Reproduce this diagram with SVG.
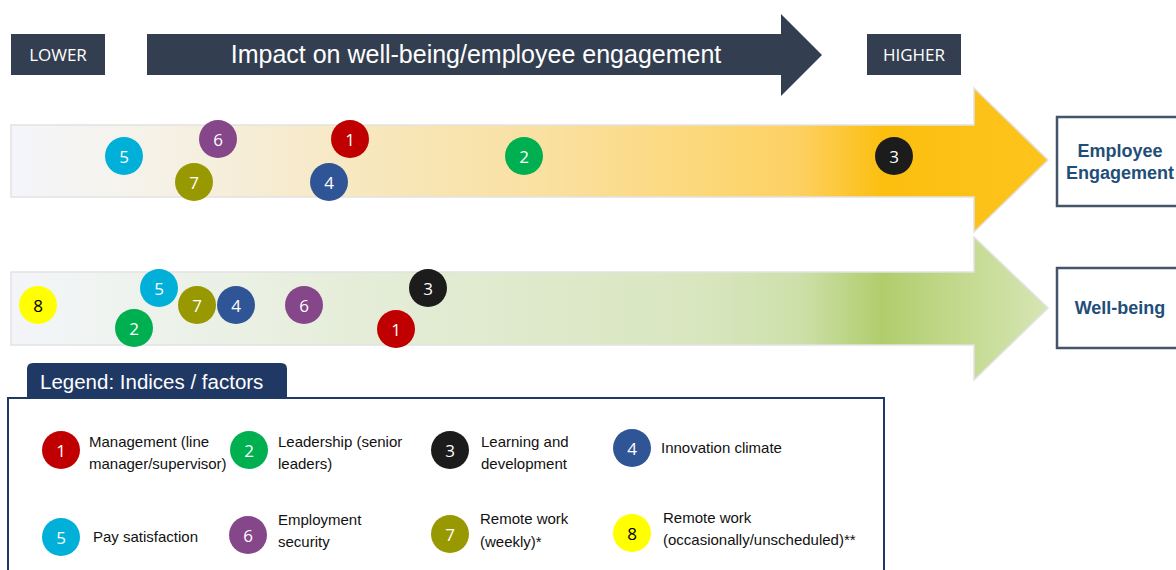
<svg xmlns="http://www.w3.org/2000/svg" width="1176" height="570" viewBox="0 0 1176 570">
<style>
.hdr{fill:#333f50}
.hdrt{fill:#fff;font-family:"Open Sans",sans-serif;font-size:17px;text-anchor:middle}
.title{fill:#fff;font-family:"Liberation Sans",Arial,sans-serif;font-size:25px;text-anchor:middle}
.band{stroke:#e2e2e2;stroke-width:1.5}
.tbox{fill:#fff;stroke:#44546a;stroke-width:2.5}
.tlab{fill:#1f4e79;font-family:"Liberation Sans",Arial,sans-serif;font-size:18px;font-weight:bold;text-anchor:middle}
.num{fill:#fff;font-family:"Open Sans",sans-serif;font-size:17px;text-anchor:middle;dominant-baseline:central}
.numk{fill:#000;font-family:"Open Sans",sans-serif;font-size:17px;text-anchor:middle;dominant-baseline:central}
.lg{fill:#111;font-family:"Liberation Sans",Arial,sans-serif;font-size:15px}
.c1{fill:#c00000}.c2{fill:#00b050}.c3{fill:#1c1c1c}.c4{fill:#2f5597}
.c5{fill:#00b0d8}.c6{fill:#86468a}.c7{fill:#989800}.c8{fill:#ffff00}
</style>
<defs>
<linearGradient id="gy" gradientUnits="userSpaceOnUse" x1="11" y1="0" x2="1048" y2="0">
<stop offset="0" stop-color="#f4f5fb"/>
<stop offset="0.11" stop-color="#f5f3ec"/>
<stop offset="0.23" stop-color="#f6edd6"/>
<stop offset="0.375" stop-color="#f8e6b8"/>
<stop offset="0.52" stop-color="#fae0a0"/>
<stop offset="0.665" stop-color="#fcd87a"/>
<stop offset="0.76" stop-color="#fdd062"/>
<stop offset="0.84" stop-color="#fcbf10"/>
<stop offset="1" stop-color="#fdc41c"/>
</linearGradient>
<linearGradient id="gg" gradientUnits="userSpaceOnUse" x1="11" y1="0" x2="1048" y2="0">
<stop offset="0" stop-color="#f3f5f9"/>
<stop offset="0.23" stop-color="#eaf0e3"/>
<stop offset="0.375" stop-color="#e3ecd5"/>
<stop offset="0.665" stop-color="#d8e6bf"/>
<stop offset="0.76" stop-color="#cde0aa"/>
<stop offset="0.84" stop-color="#b0cd6c"/>
<stop offset="0.92" stop-color="#c4da90"/>
<stop offset="1" stop-color="#d6e6b5"/>
</linearGradient>
</defs>

<g id="header">
<rect class="hdr" x="11" y="34" width="94" height="41"/>
<text class="hdrt" x="58" y="61">LOWER</text>
<polygon class="hdr" points="147,34 781,34 781,14 822,55 781,96 781,75 147,75"/>
<text class="title" x="476" y="63">Impact on well-being/employee engagement</text>
<rect class="hdr" x="867" y="34" width="94" height="41"/>
<text class="hdrt" x="914" y="61">HIGHER</text>
</g>

<g id="arrow-engagement">
<polygon class="band" fill="url(#gy)" points="11,125 974,125 974,88 1048,160 974,232 974,197 11,197"/>
</g>
<g id="arrow-wellbeing">
<polygon class="band" fill="url(#gg)" points="11,272 974,272 974,237 1048,308 974,380 974,345 11,345"/>
</g>

<g id="box-engagement">
<rect class="tbox" x="1057" y="117" width="130" height="89"/>
<text class="tlab" x="1120" y="157">Employee</text>
<text class="tlab" x="1120" y="179">Engagement</text>
</g>
<g id="box-wellbeing">
<rect class="tbox" x="1057" y="268" width="130" height="80"/>
<text class="tlab" x="1120" y="314" font-size="19.5px">Well-being</text>
</g>

<g id="engagement-markers">
<g id="e5"><circle class="c5" cx="124" cy="156" r="19"/><text class="num" x="124" y="156">5</text></g>
<g id="e6"><circle class="c6" cx="218" cy="139" r="19"/><text class="num" x="218" y="139">6</text></g>
<g id="e7"><circle class="c7" cx="194" cy="182" r="19"/><text class="num" x="194" y="182">7</text></g>
<g id="e1"><circle class="c1" cx="350" cy="139" r="19"/><text class="num" x="350" y="139">1</text></g>
<g id="e4"><circle class="c4" cx="329" cy="182" r="19"/><text class="num" x="329" y="182">4</text></g>
<g id="e2"><circle class="c2" cx="524" cy="156" r="19"/><text class="num" x="524" y="156">2</text></g>
<g id="e3"><circle class="c3" cx="894" cy="156" r="19"/><text class="num" x="894" y="156">3</text></g>
</g>

<g id="wellbeing-markers">
<g id="w8"><circle class="c8" cx="38" cy="305" r="19"/><text class="numk" x="38" y="305">8</text></g>
<g id="w5"><circle class="c5" cx="159" cy="288" r="19"/><text class="num" x="159" y="288">5</text></g>
<g id="w2"><circle class="c2" cx="134" cy="328" r="19"/><text class="num" x="134" y="328">2</text></g>
<g id="w7"><circle class="c7" cx="197" cy="305" r="19"/><text class="num" x="197" y="305">7</text></g>
<g id="w4"><circle class="c4" cx="236" cy="305" r="19"/><text class="num" x="236" y="305">4</text></g>
<g id="w6"><circle class="c6" cx="304" cy="305" r="19"/><text class="num" x="304" y="305">6</text></g>
<g id="w1"><circle class="c1" cx="396" cy="329" r="19"/><text class="num" x="396" y="329">1</text></g>
<g id="w3"><circle class="c3" cx="428" cy="288" r="19"/><text class="num" x="428" y="288">3</text></g>
</g>

<g id="legend">
<rect x="8" y="398" width="876" height="190" fill="#fff" stroke="#203864" stroke-width="2"/>
<path d="M27,398 V369 Q27,363 33,363 H281 Q287,363 287,369 V398 Z" fill="#203864"/>
<text x="40" y="389" fill="#fff" font-family="Liberation Sans, Arial, sans-serif" font-size="20.5px">Legend: Indices / factors</text>

<g id="l1"><circle class="c1" cx="61" cy="450" r="19"/><text class="num" x="61" y="450">1</text>
<text class="lg" x="89" y="447">Management (line</text><text class="lg" x="89" y="469">manager/supervisor)</text></g>
<g id="l2"><circle class="c2" cx="249" cy="450" r="19"/><text class="num" x="249" y="450">2</text>
<text class="lg" x="278" y="447">Leadership (senior</text><text class="lg" x="278" y="469">leaders)</text></g>
<g id="l3"><circle class="c3" cx="450" cy="450" r="19"/><text class="num" x="450" y="450">3</text>
<text class="lg" x="481" y="447">Learning and</text><text class="lg" x="481" y="469">development</text></g>
<g id="l4"><circle class="c4" cx="632" cy="448" r="19"/><text class="num" x="632" y="448">4</text>
<text class="lg" x="661" y="453">Innovation climate</text></g>

<g id="l5"><circle class="c5" cx="61" cy="537" r="19"/><text class="num" x="61" y="537">5</text>
<text class="lg" x="93" y="542">Pay satisfaction</text></g>
<g id="l6"><circle class="c6" cx="248" cy="535" r="19"/><text class="num" x="248" y="535">6</text>
<text class="lg" x="278" y="525">Employment</text><text class="lg" x="278" y="547">security</text></g>
<g id="l7"><circle class="c7" cx="450" cy="534" r="19"/><text class="num" x="450" y="534">7</text>
<text class="lg" x="480" y="524">Remote work</text><text class="lg" x="480" y="547">(weekly)*</text></g>
<g id="l8"><circle class="c8" cx="632" cy="533" r="19"/><text class="numk" x="632" y="533">8</text>
<text class="lg" x="663" y="523">Remote work</text><text class="lg" x="663" y="545">(occasionally/unscheduled)**</text></g>
</g>
</svg>
